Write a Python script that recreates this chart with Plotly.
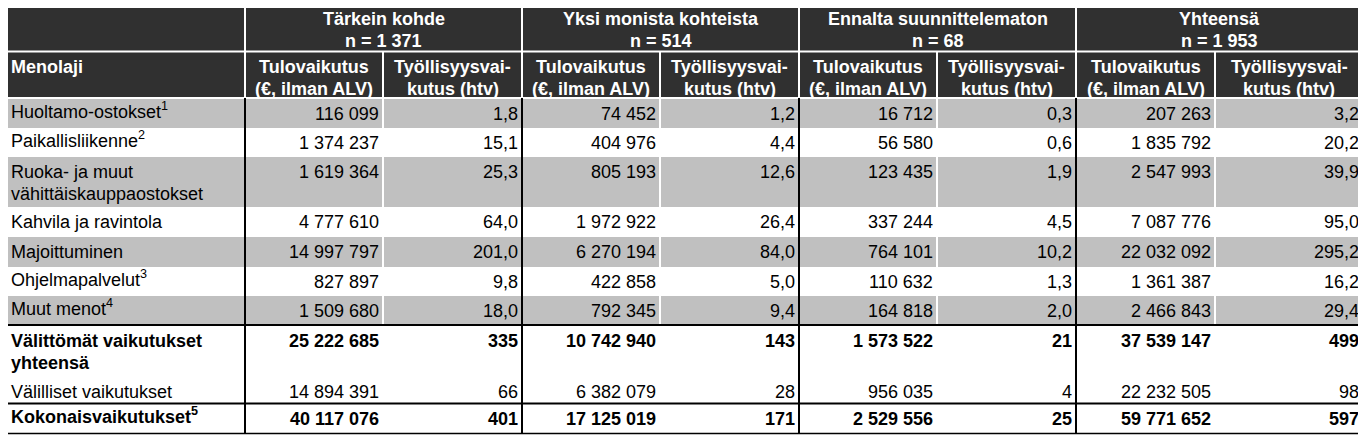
import plotly.graph_objects as go

# Column groups and sample sizes
groups = ["Tärkein kohde", "Yksi monista kohteista", "Ennalta suunnittelematon", "Yhteensä"]
group_n = ["1 371", "514", "68", "1 953"]
sub_headers = ["Tulovaikutus<br>(€, ilman ALV)", "Työllisyysvai-<br>kutus (htv)"]

# Row labels (expense types)
row_labels = [
    "Huoltamo-ostokset<sup>1</sup>",
    "Paikallisliikenne<sup>2</sup>",
    "Ruoka- ja muut<br>vähittäiskauppaostokset",
    "Kahvila ja ravintola",
    "Majoittuminen",
    "Ohjelmapalvelut<sup>3</sup>",
    "Muut menot<sup>4</sup>",
    "Välittömät vaikutukset<br>yhteensä",
    "Välilliset vaikutukset",
    "Kokonaisvaikutukset<sup>5</sup>",
]
bold_rows = [False, False, False, False, False, False, False, True, False, True]
htv_decimals = [1, 1, 1, 1, 1, 1, 1, 0, 0, 0]

# Income effect (EUR, excl. VAT) per group
tulo_tarkein = [116099, 1374237, 1619364, 4777610, 14997797, 827897, 1509680, 25222685, 14894391, 40117076]
tulo_yksi = [74452, 404976, 805193, 1972922, 6270194, 422858, 792345, 10742940, 6382079, 17125019]
tulo_ennalta = [16712, 56580, 123435, 337244, 764101, 110632, 164818, 1573522, 956035, 2529556]
tulo_yht = [207263, 1835792, 2547993, 7087776, 22032092, 1361387, 2466843, 37539147, 22232505, 59771652]

# Employment effect (person-years) per group
htv_tarkein = [1.8, 15.1, 25.3, 64.0, 201.0, 9.8, 18.0, 335, 66, 401]
htv_yksi = [1.2, 4.4, 12.6, 26.4, 84.0, 5.0, 9.4, 143, 28, 171]
htv_ennalta = [0.3, 0.6, 1.9, 4.5, 10.2, 1.3, 2.0, 21, 4, 25]
htv_yht = [3.2, 20.2, 39.9, 95.0, 295.2, 16.2, 29.4, 499, 98, 597]

tulo_cols = [tulo_tarkein, tulo_yksi, tulo_ennalta, tulo_yht]
htv_cols = [htv_tarkein, htv_yksi, htv_ennalta, htv_yht]

# ---- layout geometry (page pixels) ----
W, H = 1366, 437
PAGE_MARGIN = 8  # default body margin of the html page
FONT = "Liberation Sans, Arial, sans-serif"
FS = 18
LH = 22
SUP_SHIFT = 3.5  # <sup> makes the text box taller, pull it back up
DARK = "#303030"
GRAY = "#c0c0c0"

x_left = 4
group_edges = [(245, 383, 522), (522, 660, 799), (799, 937, 1076), (1076, 1215, 1363)]
x_right = group_edges[-1][2]
head1 = (4, 51)
head2 = (52, 97)
row_tops = [99, 128, 157, 207, 237, 267, 296, 326, 377, 404]
row_bots = [128, 157, 207, 237, 267, 296, 324, 377, 403, 433]
gray_rows = [0, 2, 4, 6]


def fmt(v, dec=0):
    return f"{v:,.{dec}f}".replace(",", " ").replace(".", ",")


shapes = []
annotations = []


def rect(x0, y0, x1, y1, color):
    shapes.append(dict(type="rect", x0=x0, y0=y0, x1=x1, y1=y1, fillcolor=color,
                       line=dict(width=0), layer="below"))


def line(x0, y0, x1, y1, color, width):
    shapes.append(dict(type="line", x0=x0, y0=y0, x1=x1, y1=y1,
                       line=dict(color=color, width=width)))


def text(s, x, y, anchor, color="black", bold=False):
    # split multi-line text so the line spacing can be controlled
    for i, part in enumerate(s.split("<br>")):
        dy = -SUP_SHIFT if "<sup>" in part else 0
        annotations.append(dict(
            text=f"<b>{part}</b>" if bold else part,
            x=x, y=y + i * LH + dy, xref="x", yref="y",
            xanchor=anchor, yanchor="middle", showarrow=False,
            font=dict(family=FONT, size=FS, color=color),
        ))


# header background
rect(x_left, head1[0], x_right, head2[1], DARK)
line(x_left, 51.5, x_right, 51.5, "white", 2)
for g0, gm, g1 in group_edges:
    line(g0, head1[0], g0, head2[1], "white", 2)
    line(gm, head2[0], gm, head2[1], "white", 2)

# header texts
text("Menolaji", 9, 67, "left", "white", True)
for (g0, gm, g1), name, n in zip(group_edges, groups, group_n):
    text(f"{name}<br>n = {n}", (g0 + g1) / 2, 19, "center", "white", True)
    text(sub_headers[0], (g0 + gm) / 2, 67, "center", "white", True)
    text(sub_headers[1], (gm + g1) / 2, 67, "center", "white", True)

# body rows
for r in gray_rows:
    rect(x_left, row_tops[r], x_right, row_bots[r], GRAY)
    for g0, gm, g1 in group_edges:
        line(gm, row_tops[r], gm, row_bots[r], "white", 2)

for r, label in enumerate(row_labels):
    y = row_tops[r] + 15
    b = bold_rows[r]
    text(label, 9, y, "left", bold=b)
    for (g0, gm, g1), tulo, htv in zip(group_edges, tulo_cols, htv_cols):
        text(fmt(tulo[r]), gm - 2, y, "right", bold=b)
        text(fmt(htv[r], htv_decimals[r]), g1 - 2, y, "right", bold=b)

# black rules
for g0, gm, g1 in group_edges:
    line(g0, head2[1] + 1, g0, 433, "black", 2)
line(x_left, 325, x_right, 325, "black", 2)
line(x_left, 403.5, x_right, 403.5, "black", 2)
line(x_left, 433.5, x_right, 433.5, "black", 1.5)

fig = go.Figure()
fig.update_layout(
    width=W - PAGE_MARGIN, height=H - PAGE_MARGIN,
    margin=dict(l=0, r=0, t=0, b=0),
    paper_bgcolor="white", plot_bgcolor="white",
    xaxis=dict(range=[PAGE_MARGIN, W], visible=False, fixedrange=True),
    yaxis=dict(range=[H, PAGE_MARGIN], visible=False, fixedrange=True),
    shapes=shapes, annotations=annotations,
    showlegend=False,
)
fig.write_html("out.html")
